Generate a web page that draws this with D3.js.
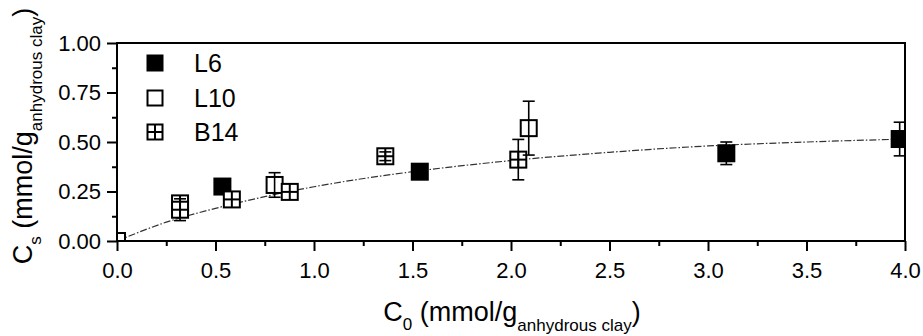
<!DOCTYPE html>
<html>
<head>
<meta charset="utf-8">
<script src="https://cdn.jsdelivr.net/npm/d3@7/dist/d3.min.js"></script>
<style>
  html, body { margin: 0; padding: 0; background: #fff; }
  svg { display: block; font-family: "Liberation Sans", Arial, Helvetica, sans-serif; }
</style>
</head>
<body>
<svg id="chart" width="923" height="336"></svg>
<script>
// Sorption data: initial concentration C0 vs. sorbed amount Cs
const seriesNames = ["L6", "L10", "B14"];

const l6C0  = [0.535, 1.537, 3.093, 3.973];
const l6Cs  = [0.275, 0.350, 0.443, 0.515];
const l6Err = [0, 0, 0.057, 0.085];

const l10C0  = [0.0, 0.80, 2.09];
const l10Cs  = [0.0, 0.283, 0.570];
const l10Err = [0, 0.062, 0.136];

const b14C0  = [0.32, 0.32, 0.583, 0.877, 1.362, 2.037];
const b14Cs  = [0.19, 0.158, 0.21, 0.248, 0.428, 0.411];
const b14Err = [0, 0.055, 0, 0, 0.022, 0.102];

// Fitted isotherm, sampled along C0
const fitC0 = [0, 0.25, 0.5, 0.75, 1.0, 1.5, 2.0, 2.5, 3.0, 3.5, 4.0];
const fitCs = [0, 0.095, 0.165, 0.224, 0.274, 0.350, 0.406, 0.448, 0.480, 0.500, 0.515];

const xTicks = [0, 0.5, 1.0, 1.5, 2.0, 2.5, 3.0, 3.5, 4.0];
const yTicks = [0, 0.25, 0.5, 0.75, 1.0];

(function () {
const svg = d3.select("#chart");
const mL = 117, mR = 905, mT = 43, mB = 241;
const FONT = "'Liberation Sans', Arial, sans-serif";

const x = d3.scaleLinear().domain([0, 4]).range([mL, mR]);
const y = d3.scaleLinear().domain([0, 1]).range([mB, mT]);

svg.append("defs").append("clipPath").attr("id", "plotClip")
  .append("rect").attr("x", mL).attr("y", mT)
  .attr("width", mR - mL).attr("height", mB - mT);

// Minor ticks
const xMinor = d3.range(0.25, 4, 0.5);
const yMinor = d3.range(0.125, 1, 0.25);

svg.append("g").attr("transform", `translate(0,${mB})`)
  .call(d3.axisBottom(x).tickValues(xMinor).tickSize(5).tickFormat("").tickSizeOuter(0))
  .call(g => g.select(".domain").remove())
  .call(g => g.selectAll("line").attr("stroke-width", 2));
svg.append("g").attr("transform", `translate(${mL},0)`)
  .call(d3.axisLeft(y).tickValues(yMinor).tickSize(5).tickFormat("").tickSizeOuter(0))
  .call(g => g.select(".domain").remove())
  .call(g => g.selectAll("line").attr("stroke-width", 2));

// Major ticks with labels
svg.append("g").attr("transform", `translate(0,${mB})`)
  .call(d3.axisBottom(x).tickValues(xTicks).tickSize(10).tickPadding(11)
    .tickFormat(d3.format(".1f")).tickSizeOuter(0))
  .call(g => g.select(".domain").remove())
  .call(g => g.selectAll("line").attr("stroke-width", 2))
  .call(g => g.selectAll("text").attr("font-size", 22).attr("fill", "#000")
    .attr("font-family", FONT));
svg.append("g").attr("transform", `translate(${mL},0)`)
  .call(d3.axisLeft(y).tickValues(yTicks).tickSize(10).tickPadding(6)
    .tickFormat(d3.format(".2f")).tickSizeOuter(0))
  .call(g => g.select(".domain").remove())
  .call(g => g.selectAll("line").attr("stroke-width", 2))
  .call(g => g.selectAll("text").attr("font-size", 22).attr("fill", "#000")
    .attr("font-family", FONT));

// Fit curve
const fitPts = fitC0.map((c, i) => [c, fitCs[i]]);
svg.append("path")
  .datum(fitPts)
  .attr("fill", "none")
  .attr("stroke", "#333")
  .attr("stroke-width", 1.2)
  .attr("stroke-dasharray", "7 2 1.5 2")
  .attr("d", d3.line().x(d => x(d[0])).y(d => y(d[1])).curve(d3.curveMonotoneX));

// Marker drawing
const MS = 16;
function drawMarker(g, cx, cy, kind, size) {
  const h = size / 2;
  g.append("rect")
    .attr("x", cx - h).attr("y", cy - h)
    .attr("width", size).attr("height", size)
    .attr("fill", kind === "filled" ? "#000" : "#fff")
    .attr("stroke", "#000").attr("stroke-width", 2);
  if (kind === "cross") {
    g.append("line").attr("x1", cx - h).attr("x2", cx + h).attr("y1", cy).attr("y2", cy)
      .attr("stroke", "#000").attr("stroke-width", 2);
    g.append("line").attr("x1", cx).attr("x2", cx).attr("y1", cy - h).attr("y2", cy + h)
      .attr("stroke", "#000").attr("stroke-width", 2);
  }
}

const series = [
  { xs: l6C0, ys: l6Cs, err: l6Err, kind: "filled" },
  { xs: l10C0, ys: l10Cs, err: l10Err, kind: "open" },
  { xs: b14C0, ys: b14Cs, err: b14Err, kind: "cross" }
];

const plot = svg.append("g").attr("clip-path", "url(#plotClip)");
series.forEach(s => {
  s.xs.forEach((c, i) => drawMarker(plot, x(c), y(s.ys[i]), s.kind, MS));
});

// Error bars
const cap = 6;
series.forEach(s => {
  s.xs.forEach((c, i) => {
    const e = s.err[i];
    if (!e) return;
    const cx = x(c), y1 = y(s.ys[i] + e), y2 = y(s.ys[i] - e);
    const eg = plot.append("g").attr("stroke", "#000").attr("stroke-width", 1.6);
    eg.append("line").attr("x1", cx).attr("x2", cx).attr("y1", y1).attr("y2", y2);
    eg.append("line").attr("x1", cx - cap).attr("x2", cx + cap).attr("y1", y1).attr("y2", y1);
    eg.append("line").attr("x1", cx - cap).attr("x2", cx + cap).attr("y1", y2).attr("y2", y2);
  });
});

// Frame
svg.append("rect")
  .attr("x", mL).attr("y", mT)
  .attr("width", mR - mL).attr("height", mB - mT)
  .attr("fill", "none").attr("stroke", "#000").attr("stroke-width", 2);

// Legend
const legendY = [63, 98, 132];
const kinds = ["filled", "open", "cross"];
const legend = svg.append("g");
seriesNames.forEach((name, i) => {
  drawMarker(legend, 155, legendY[i], kinds[i], 15);
  legend.append("text")
    .attr("x", 194).attr("y", legendY[i] + 9)
    .attr("font-size", 25).attr("fill", "#000")
    .text(name);
});

// Axis titles
const xt = svg.append("text")
  .attr("x", (mL + mR) / 2 + 1).attr("y", 321)
  .attr("text-anchor", "middle").attr("font-size", 27).attr("fill", "#000");
xt.append("tspan").text("C");
xt.append("tspan").attr("font-size", 17).attr("dy", 9).text("0");
xt.append("tspan").attr("dy", -9).text(" (mmol/g");
xt.append("tspan").attr("font-size", 17).attr("dy", 10).text("anhydrous clay");
xt.append("tspan").attr("dy", -10).text(")");

const yt = svg.append("text")
  .attr("transform", `translate(32,${(mT + mB) / 2 - 6}) rotate(-90)`)
  .attr("text-anchor", "middle").attr("font-size", 27).attr("fill", "#000");
yt.append("tspan").text("C");
yt.append("tspan").attr("font-size", 17).attr("dy", 9).text("s");
yt.append("tspan").attr("dy", -9).text(" (mmol/g");
yt.append("tspan").attr("font-size", 17).attr("dy", 10).text("anhydrous clay");
yt.append("tspan").attr("dy", -10).text(")");
})();
</script>
</body>
</html>
